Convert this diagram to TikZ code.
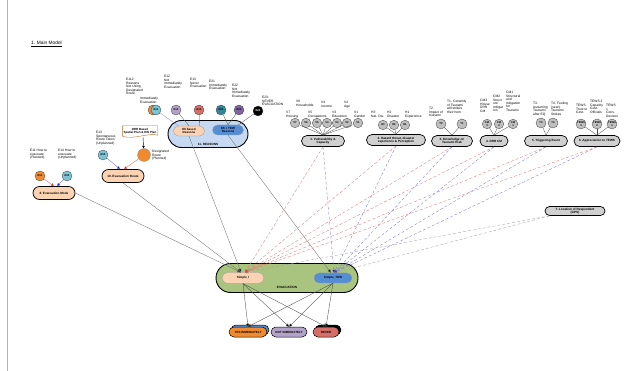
\documentclass[tikz,border=0pt]{standalone}
\usepackage{fontspec}
\setmainfont{Liberation Sans}
\usetikzlibrary{shapes.misc,arrows.meta,calc}
\definecolor{peach}{HTML}{FBD3B3}
\definecolor{lblue}{HTML}{C6D9F1}
\definecolor{mblue}{HTML}{558ED5}
\definecolor{evgreen}{HTML}{A9C47F}
\definecolor{lav}{HTML}{B3A2C7}
\definecolor{salmon}{HTML}{D46E66}
\definecolor{orng}{HTML}{F08A2E}
\definecolor{tealL}{HTML}{7CC3D3}
\definecolor{tealD}{HTML}{31859C}
\definecolor{purp}{HTML}{8064A2}
\definecolor{gbox}{HTML}{D0D0D0}
\definecolor{gcirc}{HTML}{BFBFBF}
\definecolor{redl}{HTML}{E07070}
\definecolor{bluel}{HTML}{6F6FE0}
\begin{document}
\begin{tikzpicture}[x=1pt,y=-1pt,
  lbl/.style={font=\fontsize{3.3}{3.6}\selectfont, align=left, inner sep=0, anchor=north west},
  cir/.style={circle, draw=black!75, line width=0.3pt, minimum size=10pt, inner sep=0, font=\fontsize{2.7}{2.9}\selectfont\bfseries, align=center},
  grp/.style={rounded rectangle, draw=black, line width=0.7pt, fill=gbox, font=\fontsize{3.1}{3.4}\selectfont\bfseries, align=center, inner sep=0, minimum height=11pt},
  sbox/.style={rounded rectangle, draw=black, line width=0.7pt, font=\fontsize{3.1}{3.4}\selectfont\bfseries, align=center, inner sep=0, minimum height=13pt},
  inbox/.style={rounded rectangle, draw=black!40, line width=0.3pt, font=\fontsize{3}{3.3}\selectfont\bfseries, align=center, inner sep=0, minimum height=10pt},
  fan/.style={draw=black!70, line width=0.3pt},
  gline/.style={draw=black!55, line width=0.35pt, -{Triangle[length=3.5pt,width=3pt,fill=black]}},
  rline/.style={draw=redl, line width=0.3pt, densely dashed, -{Triangle[length=3pt,width=2.5pt,fill=red]}},
  bline/.style={draw=bluel, line width=0.3pt, densely dashed, -{Triangle[length=3pt,width=2.5pt,fill=black]}},
  oline/.style={draw=black!70, line width=0.35pt, -{Triangle[length=3pt,width=3pt,fill=black]}}
]
\useasboundingbox (0,0) rectangle (629,371);
\fill[white] (0,0) rectangle (629,371);
\draw[black!30, line width=0.6pt] (7,0) -- (7,371);

\node[anchor=west, font=\fontsize{4.8}{5}\selectfont, inner sep=0] (title) at (31,44) {\underline{1. Main Model}};

% ---------- left: evacuation mode ----------
\node[lbl] (lE11) at (30,149) {E11 How to\\evacuate\\(Planned)};
\node[lbl] (lE14) at (58,149) {E14 How to\\evacuate\\(Unplanned)};
\node[cir, fill=orng] (cE11) at (40,176) {E11};
\node[cir, fill=tealL] (cE14) at (67,176) {E14};
\node[sbox, fill=peach, minimum width=42pt] (n8) at (54,193) {8.\ Evacuation Mode};
\draw[draw=redl, line width=0.4pt, -{Triangle[length=3pt,width=3pt,fill=red]}] (cE11) -- (n8.north);
\draw[draw=bluel, line width=0.4pt, -{Triangle[length=3pt,width=3pt,fill=blue]}] (cE14) -- ($(n8.north)+(3,0)$);

% ---------- evacuation route ----------
\node[lbl] (lE13) at (96,131) {E13\\Spontaneous\\Route Taken\\(Unplanned)};
\node[cir, fill=tealL] (cE13) at (103,155) {E13};
\node[circle, draw=black!40, line width=0.3pt, fill=orng, minimum size=13pt, inner sep=0] (cDes) at (144,155) {};
\node[lbl] (lDes) at (152,150) {Designated\\Route\\(Planned)};
\node[font=\fontsize{3}{3.3}\selectfont\bfseries, align=center, inner sep=0, minimum width=35pt, minimum height=10pt] (drr) at (140,131) {DRR Based\\Spatial Plan \& EW Plan};
\draw[draw=orng!80!black, line width=0.4pt] (drr.south west) -- (drr.north west) -- (drr.north east) -- ($(drr.south east)+(0,-1)$)
   .. controls ($(drr.south east)+(-8,-4)$) and ($(drr.south west)+(10,4)$) .. (drr.south west);
\draw[black, line width=0.4pt, -{Triangle[length=2.5pt,width=2.5pt]}] ($(drr.south)+(3,1)$) -- (cDes);
\node[sbox, fill=peach, minimum width=42pt] (n10) at (123,176) {10.\ Evacuation Route};
\draw[draw=bluel, line width=0.4pt, -{Triangle[length=3pt,width=3pt,fill=blue]}] (cE13) -- ($(n10.north)+(-3,0)$);
\draw[draw=redl, line width=0.4pt, -{Triangle[length=3pt,width=3pt,fill=red]}] (cDes) -- ($(n10.north)+(1,0)$);

% ---------- reasons ----------
\node[rounded rectangle, draw=black, line width=0.9pt, fill=lblue, minimum width=80pt, minimum height=27pt, inner sep=0] (n11) at (208,134) {};
\node[font=\fontsize{3.1}{3.3}\selectfont\bfseries, inner sep=0] (l11) at (208,144) {11.\ REASONS};
\node[inbox, fill=peach, minimum width=31pt] (rE6) at (189,131) {E6 based\\Reasons};
\node[inbox, fill=mblue, minimum width=31pt] (rTEW) at (228,130) {E6 + TEW\\Reasons};

\node[lbl] (lE112) at (126,78) {E112\\Reasons\\Not Using\\Designated\\Route};
\node[lbl] (lImm) at (140,97) {Immediately\\Evacuation};
\node[lbl] (lE12) at (164,75) {E12\\Not\\Immediately\\Evacuation};
\node[lbl] (lE13r) at (190,78) {E13\\Never\\Evacuation};
\node[lbl] (lE21) at (209,80) {E21\\Immediately\\Evacuation};
\node[lbl] (lE22) at (232,84) {E22\\Not\\Immediately\\Evacuation};
\node[lbl] (lE23) at (262,96) {E23:\\NEVER\\EVACUATION};

\node[cir, fill=orng] (cE112) at (153,110) {};
\node[cir, fill=tealL] (cE11r) at (156,110) {E11};
\node[cir, fill=lav] (cE12) at (176,110) {E12};
\node[cir, fill=salmon] (cE13r) at (199,110) {E13};
\node[cir, fill=tealD] (cE21) at (221,110) {E21};
\node[cir, fill=purp] (cE22) at (239,110) {E22};
\node[cir, fill=black, text=white] (cE23) at (258,111) {E23};

\draw[draw=bluel!70, line width=0.4pt] (cE11r) -- (rE6.north west);
\draw[fan] (cE12) -- (rE6.north);
\draw[fan] (cE13r) -- (rE6.north east);
\draw[fan] (cE21) -- (rTEW.north);
\draw[fan] (cE22) -- (rTEW.north);
\draw[fan] (cE23) -- (rTEW.north east);

% ---------- group 1 ----------
\node[lbl] (lV7) at (286,111) {V7\\Housing};
\node[lbl] (lV6) at (296,100) {V6\\Households};
\node[lbl] (lV5) at (308,111) {V5\\Occupations};
\node[lbl] (lV4) at (321,101) {V4\\Income};
\node[lbl] (lV3) at (332,111) {V3\\Education};
\node[lbl] (lV2) at (344,101) {V2\\Age};
\node[lbl] (lV1) at (354,111) {V1\\Gender};
\node[cir, fill=gcirc, minimum size=9.5pt] (v7) at (295,123) {V7};
\node[cir, fill=gcirc, minimum size=9.5pt] (v6) at (306,123) {V6};
\node[cir, fill=gcirc, minimum size=9.5pt] (v5) at (317,123) {V5};
\node[cir, fill=gcirc, minimum size=9.5pt] (v4) at (327,123) {V4};
\node[cir, fill=gcirc, minimum size=9.5pt] (v3) at (337,123) {V3};
\node[cir, fill=gcirc, minimum size=9.5pt] (v2) at (347,123) {V2};
\node[cir, fill=gcirc, minimum size=9.5pt] (v1) at (358,123) {V1};
\node[grp, minimum width=43pt] (n1) at (323,141) {1.\ Vulnerability \&\\Capacity};
\foreach \c in {v7,v6,v5,v4,v3,v2,v1} \draw[fan] (\c) -- (n1.north);

% ---------- group 2 ----------
\node[lbl] (lH3) at (371,111) {H3\\Nat. Dis.};
\node[lbl] (lH2) at (387,111) {H2\\Disaster};
\node[lbl] (lH1) at (405,111) {H1\\Experience};
\node[cir, fill=gcirc, minimum size=9.5pt] (h3) at (383,125) {H3};
\node[cir, fill=gcirc, minimum size=9.5pt] (h2) at (394,125) {H2};
\node[cir, fill=gcirc, minimum size=9.5pt] (h1) at (405,125) {H1};
\node[grp, minimum width=59pt] (n2) at (396,140) {2.\ Hazard threat, disaster\\experience \& Perception};
\foreach \c in {h3,h2,h1} \draw[fan] (\c) -- (n2.north);

% ---------- group 3 ----------
\node[lbl] (lT2) at (429,107) {T2.\\Impact of\\tsunami};
\node[lbl] (lT1) at (447,100) {T1. Certainty\\of Tsunami\\will strikes\\their hom};
\node[cir, fill=gcirc] (t2) at (441,124) {T2};
\node[cir, fill=gcirc] (t1) at (462,124) {T1};
\node[grp, minimum width=41pt] (n3) at (452,141) {3.\ Knowledge on\\Tsunami Risk};
\foreach \c in {t2,t1} \draw[fan] (\c) -- (n3.north);

% ---------- group 4 ----------
\node[lbl] (lCM3) at (480,99) {CM3\\House\\DRR\\CM};
\node[lbl] (lCM2) at (493,95) {CM2\\Struct\\ure\\mitigat\\ion};
\node[lbl] (lCM1) at (506,91) {CM1\\Structural\\and\\mitigation\\for\\Tsunami};
\node[cir, fill=gcirc, minimum size=9.5pt] (cm3) at (487,124) {CM\\3};
\node[cir, fill=gcirc, minimum size=9.5pt] (cm2) at (499,124) {CM\\2};
\node[cir, fill=gcirc, minimum size=9.5pt] (cm1) at (513,124) {CM\\1};
\node[grp, minimum width=28pt] (n4) at (494,141) {4.\ DRR CM};
\foreach \c in {cm3,cm2,cm1} \draw[fan] (\c) -- (n4.north);

% ---------- group 5 ----------
\node[lbl] (lT3) at (533,102) {T3.\\Assuming\\Tsunami\\after EQ};
\node[lbl] (lT4) at (551,102) {T4. Feeling\\(seen)\\Tsunami\\Strikes};
\node[cir, fill=gcirc] (t3) at (541,123) {T3};
\node[cir, fill=gcirc] (t4) at (553,123) {T4};
\node[grp, minimum width=43pt] (n5) at (546,141) {5.\ Triggering Event};
\foreach \c in {t3,t4} \draw[fan] (\c) -- (n5.north);

% ---------- group 6 ----------
\node[lbl] (lTW3) at (576,104) {TEWS\\Trust to\\Govt.};
\node[lbl] (lTW2) at (590,100) {TEWS 2\\Capacity\\Govt.\\Officials};
\node[lbl] (lTW1) at (606,104) {TEWS\\1\\Cons.\\Devices};
\node[cir, fill=gcirc] (tw3) at (581,124) {TEWS\\3};
\node[cir, fill=gcirc] (tw2) at (597,124) {TEWS\\2};
\node[cir, fill=gcirc] (tw1) at (612,124) {TEWS\\1};
\node[grp, minimum width=46pt] (n6) at (597,141) {6.\ Appreciation to TEWS};
\foreach \c in {tw3,tw2,tw1} \draw[fan] (\c) -- (n6.north);

% ---------- group 7 ----------
\node[grp, minimum width=60pt, minimum height=9pt] (n7) at (575,211) {7.\ Location of Respondent\\(GPS)};

% ---------- evacuation ----------
\node[rounded rectangle, draw=black, line width=0.9pt, fill=evgreen, minimum width=142pt, minimum height=29pt, inner sep=0] (ev) at (287,278) {};
\node[font=\fontsize{3.1}{3.3}\selectfont\bfseries, inner sep=0] (lev) at (287,287) {EVACUATION};
\node[inbox, fill=peach, minimum width=42pt, minimum height=11pt] (sI) at (243,278) {Simple\_I};
\node[inbox, fill=mblue, minimum width=38pt] (sT) at (333,278) {Simple\_TEW};

% connectors into evacuation
\draw[gline] (n8.east) -- ($(sI.north)+(-2,0)$);
\draw[gline] (n10.south) -- ($(sI.north)+(-2,0)$);
\draw[gline] (rE6.south) -- ($(sI.north)+(-2,0)$);
\draw[gline] (rTEW.south) -- ($(sT.north)+(-2,0)$);
\foreach \g in {n1,n2,n3,n4,n5,n6} {
  \draw[rline] (\g.south) -- ($(sI.north)+(2,0)$);
  \draw[bline] (\g.south) -- ($(sT.north)+(1,0)$);
}
\draw[draw=black!40, line width=0.3pt, densely dashed] (n7.south west) -- ($(sI.north)+(1,0)$);
\draw[draw=black!40, line width=0.3pt, densely dashed] (n7.south west) -- ($(sT.north)+(2,0)$);

% ---------- outcomes ----------
\node[rounded rectangle, draw=black, line width=0.5pt, fill=mblue, minimum width=38pt, minimum height=10pt, inner sep=0] (yesb) at (250,330) {};
\node[rounded rectangle, draw=black, line width=0.5pt, fill=orng, minimum width=38pt, minimum height=10pt, inner sep=0, font=\fontsize{3}{3.2}\selectfont\bfseries] (yes) at (248,332) {YES IMMEDIATELY};
\node[rounded rectangle, draw=black, line width=0.5pt, fill=lav, minimum width=36pt, minimum height=10pt, inner sep=0, font=\fontsize{3}{3.2}\selectfont\bfseries] (notim) at (289,332) {NOT IMMEDIATELY};
\node[rounded rectangle, draw=black, line width=0.5pt, fill=black, minimum width=26pt, minimum height=10pt, inner sep=0] (neverb) at (328,330) {};
\node[rounded rectangle, draw=black, line width=0.5pt, fill=salmon, minimum width=26pt, minimum height=10pt, inner sep=0, font=\fontsize{3}{3.2}\selectfont\bfseries] (never) at (326,332) {NEVER};
\foreach \s in {sI,sT} {
  \draw[oline] (\s.south) -- (yes.north);
  \draw[oline] (\s.south) -- (notim.north);
  \draw[oline] (\s.south) -- (never.north);
}
\end{tikzpicture}
\end{document}
